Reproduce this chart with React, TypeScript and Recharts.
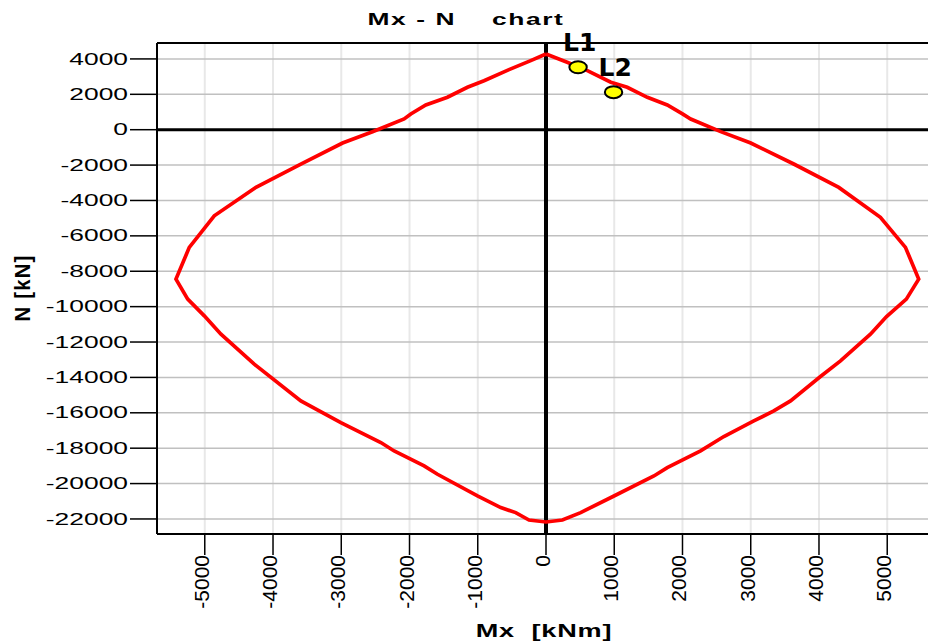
import React from "react";
import {
  ScatterChart,
  Scatter,
  XAxis,
  YAxis,
  CartesianGrid,
  ReferenceLine,
} from "recharts";

const curveMx = [
  0, 310, 606, 950, 1190, 1485, 1777, 2000, 2120, 2560, 3000, 3630, 4290, 4900,
  5267, 5461, 5280, 4990, 4754, 4315, 4022, 3583, 3338, 3045, 2606, 2265, 1777,
  1581, 996, 508, 240, 0, -249, -444, -663, -1004, -1590, -1786, -2225, -2420,
  -3006, -3592, -4275, -4763, -5007, -5250, -5422, -5227, -4861, -4250, -3592,
  -2981, -2542, -2079, -1981, -1761, -1444, -1151, -908, -542, -224, 0,
];
const curveN = [
  4280, 3810, 3340, 2680, 2400, 1830, 1400, 890, 605, -110, -750, -1940, -3260,
  -4950, -6650, -8445, -9576, -10560, -11556, -13065, -13948, -15328, -15893,
  -16459, -17342, -18156, -19095, -19570, -20701, -21640, -22060, -22170,
  -22060, -21640, -21357, -20701, -19474, -19004, -18156, -17681, -16550,
  -15328, -13252, -11556, -10520, -9576, -8445, -6652, -4864, -3258, -1940,
  -752, -113, 605, 888, 1397, 1833, 2398, 2771, 3394, 3903, 4280,
];

const markerLabels = ["L1", "L2"];
const markerMx = [470, 990];
const markerN = [3530, 2120];

const xTicks = [-5000, -4000, -3000, -2000, -1000, 0, 1000, 2000, 3000, 4000, 5000];
const yTicks = [
  4000, 2000, 0, -2000, -4000, -6000, -8000, -10000, -12000, -14000, -16000,
  -18000, -20000, -22000,
];

const curveData = curveMx.map((mx, i) => ({ mx, n: curveN[i] }));
const markerData = markerMx.map((mx, i) => ({ mx, n: markerN[i], label: markerLabels[i] }));

const ARIAL = "'Liberation Sans', Arial, sans-serif";

const XTick = (props: any) => {
  const { x, y, payload } = props;
  return (
    <g transform={`translate(${x + 4},${y})`}>
      <text
        transform="rotate(-90)"
        textAnchor="end"
        fontFamily={ARIAL}
        fontSize={21}
        fill="#000"
      >
        {payload.value}
      </text>
    </g>
  );
};

const YTick = (props: any) => {
  const { x, y, payload } = props;
  return (
    <g transform={`translate(${x},${y}) scale(1.6,1)`}>
      <text
        x={0}
        y={0}
        textAnchor="end"
        dominantBaseline="central"
        fontFamily={ARIAL}
        fontSize={16.5}
        fill="#000"
      >
        {payload.value}
      </text>
    </g>
  );
};

const MarkerShape = (props: any) => {
  const { cx, cy, payload } = props;
  return (
    <g>
      <ellipse cx={cx} cy={cy} rx={8.7} ry={6} fill="#ffff00" stroke="#000" strokeWidth={2} />
      <text
        x={cx - 15}
        y={cy - 16}
        fontFamily="'DejaVu Sans', sans-serif"
        fontWeight="bold"
        fontSize={25}
        fill="#000"
      >
        {payload.label}
      </text>
    </g>
  );
};

const NoShape = () => <g />;

export default function App() {
  return (
    <div
      style={{
        position: "relative",
        width: 920,
        height: 635,
        overflow: "hidden",
      }}
    >
      <style>{"html{overflow:hidden;} body{margin:8px 0 0 8px;}"}</style>
      <ScatterChart
        width={940}
        height={635}
        margin={{ top: 35, right: 13, left: 9, bottom: 0 }}
      >
        <CartesianGrid horizontal={false} vertical={true} stroke="#e8e8e8" strokeWidth={2} />
        <CartesianGrid horizontal={true} vertical={false} stroke="#c0c0c0" strokeWidth={1.5} />
        <XAxis
          type="number"
          dataKey="mx"
          domain={[-5700, 5700]}
          ticks={xTicks}
          interval={0}
          height={109}
          tickSize={21}
          tickMargin={0}
          tick={<XTick />}
          axisLine={{ stroke: "#000", strokeWidth: 2 }}
          tickLine={{ stroke: "#000", strokeWidth: 1.5 }}
        />
        <YAxis
          type="number"
          dataKey="n"
          domain={[-22850, 4900]}
          ticks={yTicks}
          interval={0}
          width={140}
          tickSize={27}
          tickMargin={2}
          tick={<YTick />}
          axisLine={{ stroke: "#000", strokeWidth: 2 }}
          tickLine={{ stroke: "#000", strokeWidth: 1.5 }}
        />
        <Scatter
          data={curveData}
          line={{ stroke: "#ff0000", strokeWidth: 3.7 }}
          lineType="joint"
          shape={<NoShape />}
          isAnimationActive={false}
          legendType="none"
        />
        <ReferenceLine y={0} stroke="#000" strokeWidth={3} ifOverflow="visible" />
        <ReferenceLine x={0} stroke="#000" strokeWidth={4} ifOverflow="visible" />
        <ReferenceLine y={4900} stroke="#000" strokeWidth={2} ifOverflow="visible" />
        <Scatter
          data={markerData}
          shape={<MarkerShape />}
          isAnimationActive={false}
          legendType="none"
        />
      </ScatterChart>
      <svg
        width={920}
        height={635}
        style={{ position: "absolute", left: 0, top: 0, pointerEvents: "none" }}
      >
        <g transform="translate(458,17) scale(1.6,1)">
          <text
            x={0}
            y={0}
            textAnchor="middle"
            fontFamily={ARIAL}
            fontWeight="bold"
            fontSize={16.5}
            letterSpacing={1}
            style={{ whiteSpace: "pre" }}
            fill="#000"
          >
            {"Mx - N    chart"}
          </text>
        </g>
        <g transform="translate(536,629) scale(1.55,1)">
          <text
            x={0}
            y={0}
            textAnchor="middle"
            fontFamily={ARIAL}
            fontWeight="bold"
            fontSize={17.5}
            letterSpacing={0.5}
            style={{ whiteSpace: "pre" }}
            fill="#000"
          >
            {"Mx  [kNm]"}
          </text>
        </g>
        <g transform="translate(14,280) rotate(-90) scale(1.2,1.25)">
          <text
            x={0}
            y={0}
            textAnchor="middle"
            dominantBaseline="central"
            fontFamily={ARIAL}
            fontWeight="bold"
            fontSize={17}
            letterSpacing={1}
            style={{ whiteSpace: "pre" }}
            fill="#000"
          >
            {"N [kN]"}
          </text>
        </g>
      </svg>
    </div>
  );
}
